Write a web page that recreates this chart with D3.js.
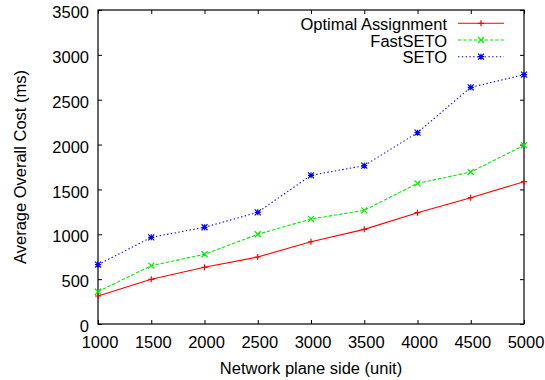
<!DOCTYPE html>
<html>
<head>
<meta charset="utf-8">
<script src="https://cdn.jsdelivr.net/npm/d3@7"></script>
<style>
  body { margin: 0; background: #fff; }
  text { font-family: "Liberation Sans", Arial, sans-serif; font-size: 16px; fill: #000; }
</style>
</head>
<body>
<svg id="chart"></svg>
<script>
// data
var sides = [1000, 1500, 2000, 2500, 3000, 3500, 4000, 4500, 5000];
var optimal = [312, 498, 632, 747, 917, 1055, 1241, 1408, 1586];
var fastSeto = [360, 650, 777, 1000, 1170, 1267, 1568, 1694, 1992];
var seto = [661, 966, 1078, 1245, 1657, 1765, 2133, 2638, 2779];
var yTicks = [0, 500, 1000, 1500, 2000, 2500, 3000, 3500];
var seriesNames = ["Optimal Assignment", "FastSETO", "SETO"];

var W = 545, H = 380;
var margin = {top: 10, right: 21, bottom: 56, left: 98},
    width = W - margin.left - margin.right,
    height = H - margin.top - margin.bottom;

var svg = d3.select("#chart").attr("width", W).attr("height", H);
var g = svg.append("g").attr("transform", "translate(" + margin.left + "," + margin.top + ")");

var x = d3.scaleLinear().domain([1000, 5000]).range([0, width]);
var y = d3.scaleLinear().domain([0, 3500]).range([height, 0]);

// text in the reference is a touch wider than Liberation Sans
function stretch(sel) {
  sel.each(function() {
    var len = this.getComputedTextLength();
    d3.select(this).attr("textLength", len * 1.03).attr("lengthAdjust", "spacingAndGlyphs");
  });
}

// axes with inner ticks on all four sides
var bottom = g.append("g").attr("transform", "translate(0," + height + ")")
  .call(d3.axisBottom(x).tickValues(sides).tickFormat(d3.format("d")).tickSizeInner(-4).tickSizeOuter(0).tickPadding(13));
var left = g.append("g")
  .call(d3.axisLeft(y).tickValues(yTicks).tickFormat(d3.format("d")).tickSizeInner(-4).tickSizeOuter(0).tickPadding(9));
g.append("g")
  .call(d3.axisTop(x).tickValues(sides).tickFormat("").tickSizeInner(-4).tickSizeOuter(0));
g.append("g").attr("transform", "translate(" + width + ",0)")
  .call(d3.axisRight(y).tickValues(yTicks).tickFormat("").tickSizeInner(-4).tickSizeOuter(0));

g.selectAll(".domain").remove();
g.selectAll(".tick line").attr("stroke", "#000");
bottom.selectAll("text").attr("font-size", null).attr("font-family", null).attr("x", 1.5);
left.selectAll("text").attr("font-size", null).attr("font-family", null).attr("dy", "0.48em");
stretch(bottom.selectAll("text"));
stretch(left.selectAll("text"));

g.append("rect")
  .attr("width", width).attr("height", height)
  .attr("fill", "none").attr("stroke", "#000").attr("stroke-width", 1.2);

// axis titles
svg.append("text")
  .attr("x", margin.left + width / 2).attr("y", 374)
  .attr("text-anchor", "middle")
  .text("Network plane side (unit)")
  .call(stretch);
svg.append("text")
  .attr("transform", "translate(26," + (margin.top + height / 2) + ") rotate(-90)")
  .attr("text-anchor", "middle")
  .text("Average Overall Cost (ms)")
  .call(stretch);

// series
var series = [
  {name: seriesNames[0], values: optimal, color: "#ff0000", dash: null, marker: "plus"},
  {name: seriesNames[1], values: fastSeto, color: "#00ee00", dash: "3.5,1.8", marker: "cross"},
  {name: seriesNames[2], values: seto, color: "#0000ff", dash: "1.4,2.4", marker: "star"}
];

var line = d3.line().x(function(d, i) { return x(sides[i]); }).y(function(d) { return y(d); });

function drawMarker(sel, type, color) {
  var s = 3;
  var p = "";
  if (type == "plus" || type == "star") p += "M" + (-s) + ",0H" + s + "M0," + (-s) + "V" + s;
  if (type == "cross" || type == "star") p += "M" + (-s) + "," + (-s) + "L" + s + "," + s + "M" + (-s) + "," + s + "L" + s + "," + (-s);
  sel.append("path").attr("d", p).attr("stroke", color).attr("stroke-width", 1.2).attr("fill", "none");
}

series.forEach(function(s) {
  g.append("path")
    .datum(s.values)
    .attr("d", line)
    .attr("fill", "none")
    .attr("stroke", s.color)
    .attr("stroke-width", 1.1)
    .attr("stroke-dasharray", s.dash);
  g.selectAll(null)
    .data(s.values)
    .enter()
    .append("g")
      .attr("transform", function(d, i) { return "translate(" + x(sides[i]) + "," + y(d) + ")"; })
      .each(function() { drawMarker(d3.select(this), s.marker, s.color); });
});

// legend
var legend = svg.append("g");
series.forEach(function(s, i) {
  var ly = 23.3 + i * 16.7;
  legend.append("text")
    .attr("x", 447).attr("y", ly + 6.5)
    .attr("text-anchor", "end")
    .text(s.name)
    .call(stretch);
  legend.append("line")
    .attr("x1", 458).attr("x2", 504).attr("y1", ly).attr("y2", ly)
    .attr("stroke", s.color).attr("stroke-width", 1.1)
    .attr("stroke-dasharray", s.dash);
  var m = legend.append("g").attr("transform", "translate(481," + ly + ")");
  drawMarker(m, s.marker, s.color);
});
</script>
</body>
</html>
